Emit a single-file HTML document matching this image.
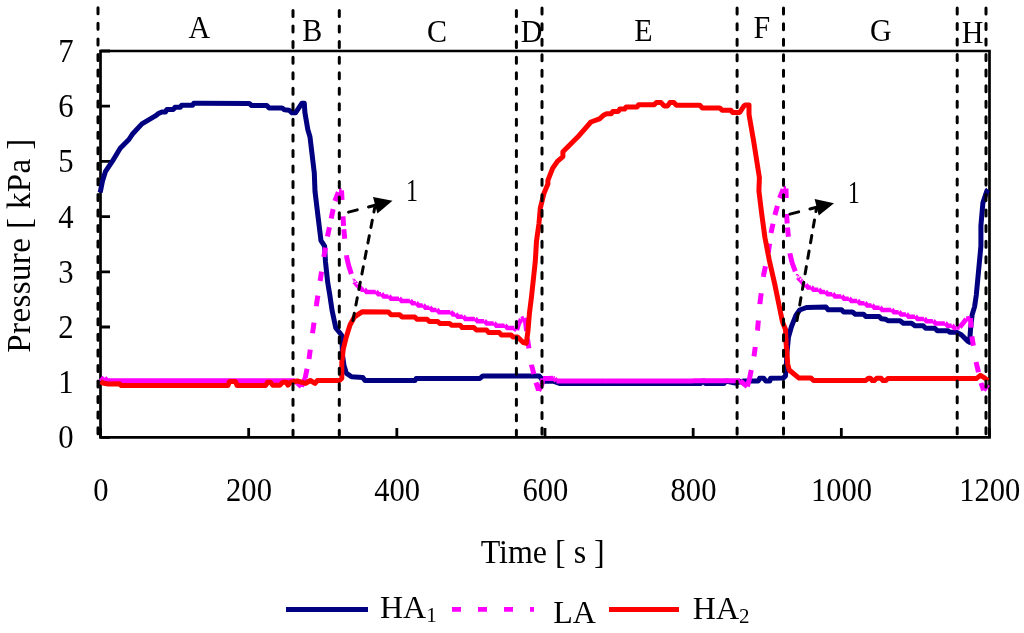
<!DOCTYPE html>
<html><head><meta charset="utf-8"><style>
html,body{margin:0;padding:0;background:#fff;overflow:hidden;}
svg{display:block;will-change:transform;}
</style></head><body>
<svg width="1024" height="633" viewBox="0 0 1024 633"><rect width="1024" height="633" fill="#fff"/><path d="M100.5,51.0 H989.5 V437.4 H100.5 Z" fill="none" stroke="#000" stroke-width="2.7"/><path d="M100.5,437.40 H110.0 M100.5,382.20 H110.0 M100.5,327.00 H110.0 M100.5,271.80 H110.0 M100.5,216.60 H110.0 M100.5,161.40 H110.0 M100.5,106.20 H110.0 M100.5,51.00 H110.0 M100.50,437.4 V427.9 M248.67,437.4 V427.9 M396.83,437.4 V427.9 M545.00,437.4 V427.9 M693.17,437.4 V427.9 M841.33,437.4 V427.9 M989.50,437.4 V427.9" stroke="#000" stroke-width="2.8" fill="none"/><path d="M100.2,192.5 L102.5,181.0 L105.4,171.7 L112.4,161.2 L120.2,148.2 L128.9,139.5 L132.3,134.3 L141.9,123.9 L155.0,116.2 L158.5,113.5 L161.9,111.9 L165.5,111.9 L167.0,109.4 L173.5,109.4 L175.0,107.3 L180.3,107.3 L181.7,105.3 L192.6,105.3 L193.8,103.3 L200.0,103.3 L249.2,103.4 L251.6,105.5 L266.8,105.5 L269.1,107.9 L282.0,107.9 L284.4,109.8 L289.0,110.2 L292.0,112.8 L295.5,112.8 L302.0,103.2 L304.3,103.2 L304.9,112.5 L307.8,129.5 L310.0,137.0 L314.3,173.0 L315.0,191.4 L318.2,217.9 L321.0,240.7 L324.6,246.2 L325.5,262.0 L327.7,282.4 L329.8,295.0 L332.0,310.0 L335.8,328.0 L339.5,332.5 L341.8,335.5 L342.5,355.0 L344.0,365.6 L346.3,373.1 L351.5,376.8 L362.8,377.6 L365.0,380.6 L415.0,380.6 L416.2,378.5 L479.9,378.5 L482.8,375.9 L539.1,375.9 L541.3,378.2 L542.6,381.2 L553.1,381.2 L559.5,383.4 L562.5,383.6 L700.6,383.6 L702.5,381.0 L704.5,381.0 L705.3,383.6 L724.0,383.6 L726.0,381.0 L735.0,383.0 L743.9,381.0 L758.3,381.0 L759.6,378.2 L763.7,378.2 L765.8,381.0 L769.9,381.0 L770.6,378.2 L783.2,378.1 L785.5,375.9 L786.2,366.9 L787.0,351.9 L788.5,337.0 L791.5,326.5 L796.0,315.2 L799.7,310.0 L806.5,307.5 L826.0,307.1 L828.2,309.8 L841.5,309.8 L843.7,312.0 L852.5,312.0 L855.3,314.2 L863.6,314.2 L865.8,316.5 L879.1,316.5 L881.3,318.7 L885.7,319.2 L887.9,320.7 L900.0,320.7 L903.3,323.2 L911.6,323.2 L914.9,325.7 L923.2,325.7 L925.7,328.2 L934.8,328.2 L937.3,330.7 L948.1,330.7 L949.7,332.3 L956.4,332.3 L961.3,334.8 L968.0,341.4 L969.6,342.3 L970.5,329.8 L972.1,314.9 L974.6,306.6 L976.3,295.0 L980.9,246.1 L980.9,225.6 L982.9,202.9 L987.0,190.6 L988.0,189.5" fill="none" stroke="#000080" stroke-width="5.0" stroke-linejoin="round"/><path d="M100.5,377.8 L102.5,379.5 M102.5,379.5 L104.5,377.8 M104.5,377.8 L107.0,380.7 M107.0,380.7 L110.8,380.7 M110.8,380.7 L114.5,380.7 M114.5,380.7 L118.3,380.7 M118.3,380.7 L122.0,380.7 M122.0,380.7 L125.8,380.7 M125.8,380.7 L129.6,380.7 M129.6,380.7 L133.3,380.7 M133.3,380.7 L137.1,380.7 M137.1,380.7 L140.8,380.7 M140.8,380.7 L144.6,380.7 M144.6,380.7 L148.4,380.7 M148.4,380.7 L152.1,380.7 M152.1,380.7 L155.9,380.7 M155.9,380.7 L159.6,380.7 M159.6,380.7 L163.4,380.7 M163.4,380.7 L167.2,380.7 M167.2,380.7 L170.9,380.7 M170.9,380.7 L174.7,380.7 M174.7,380.7 L178.4,380.7 M178.4,380.7 L182.2,380.7 M182.2,380.7 L186.0,380.7 M186.0,380.7 L189.7,380.7 M189.7,380.7 L193.5,380.7 M193.5,380.7 L197.2,380.7 M197.2,380.7 L201.0,380.7 M201.0,380.7 L204.8,380.7 M204.8,380.7 L208.5,380.7 M208.5,380.7 L212.3,380.7 M212.3,380.7 L216.0,380.7 M216.0,380.7 L219.8,380.7 M219.8,380.7 L223.6,380.7 M223.6,380.7 L227.3,380.7 M227.3,380.7 L231.1,380.7 M231.1,380.7 L234.8,380.7 M234.8,380.7 L238.6,380.7 M238.6,380.7 L242.4,380.7 M242.4,380.7 L246.1,380.7 M246.1,380.7 L249.9,380.7 M249.9,380.7 L253.6,380.7 M253.6,380.7 L257.4,380.7 M257.4,380.7 L261.2,380.7 M261.2,380.7 L264.9,380.7 M264.9,380.7 L268.7,380.7 M268.7,380.7 L272.4,380.7 M272.4,380.7 L276.2,380.7 M276.2,380.7 L280.0,380.7 M280.0,380.7 L283.7,380.7 M283.7,380.7 L287.5,380.7 M287.5,380.7 L291.2,380.7 M291.2,380.7 L295.0,380.7 M295.0,380.7 L297.8,383.5 M297.8,383.5 L301.5,386.5 M301.5,386.5 L305.2,378.0 M305.2,378.0 L309.0,359.0 M309.0,359.0 L312.7,332.0 M312.7,332.0 L316.4,305.0 M316.4,305.0 L320.1,281.0 M320.1,281.0 L323.8,257.0 M323.8,257.0 L327.5,236.6 M327.5,236.6 L331.2,218.4 M331.2,218.4 L334.9,201.0 M334.9,201.0 L339.0,190.5 M339.0,190.5 L341.5,190.5 M341.5,190.5 L343.0,216.3 M343.0,216.3 L343.8,229.3 M343.8,229.3 L346.5,256.3 M346.5,256.3 L348.5,265.0 M348.5,265.0 L353.5,280.8" fill="none" stroke="#ff00ff" stroke-width="5.0" stroke-dasharray="9.5 16.5"/><path d="M514.3,328.3 L516.7,330.0 M516.7,330.0 L518.7,323.4 M518.7,323.4 L521.4,319.4 M521.4,319.4 L524.3,318.1 M524.3,318.1 L525.5,321.5 M525.5,321.5 L527.5,339.0 M527.5,339.0 L531.5,365.0 M531.5,365.0 L536.0,382.5 M536.0,382.5 L538.6,390.6 M538.6,390.6 L541.5,386.0 M541.5,386.0 L543.0,378.5 M543.0,378.5 L548.0,378.4 M548.0,378.4 L553.0,378.3 M553.0,378.3 L554.5,378.7 M554.5,378.7 L556.4,381.0 M556.4,381.0 L560.1,381.0 M560.1,381.0 L563.9,381.0 M563.9,381.0 L567.6,381.0 M567.6,381.0 L571.4,381.0 M571.4,381.0 L575.1,381.0 M575.1,381.0 L578.9,381.0 M578.9,381.0 L582.6,381.0 M582.6,381.0 L586.4,381.0 M586.4,381.0 L590.1,381.0 M590.1,381.0 L593.9,381.0 M593.9,381.0 L597.6,381.0 M597.6,381.0 L601.4,381.0 M601.4,381.0 L605.1,380.9 M605.1,380.9 L608.9,380.9 M608.9,380.9 L612.6,380.9 M612.6,380.9 L616.4,380.9 M616.4,380.9 L620.1,380.9 M620.1,380.9 L623.8,380.9 M623.8,380.9 L627.6,380.9 M627.6,380.9 L631.3,380.9 M631.3,380.9 L635.1,380.9 M635.1,380.9 L638.8,380.9 M638.8,380.9 L642.6,380.9 M642.6,380.9 L646.3,380.9 M646.3,380.9 L650.1,380.9 M650.1,380.9 L653.8,380.9 M653.8,380.9 L657.6,380.9 M657.6,380.9 L661.3,380.9 M661.3,380.9 L665.1,380.9 M665.1,380.9 L668.8,380.9 M668.8,380.9 L672.6,380.9 M672.6,380.9 L676.3,380.9 M676.3,380.9 L680.0,380.9 M680.0,380.9 L683.8,380.9 M683.8,380.9 L687.5,380.9 M687.5,380.9 L691.3,380.9 M691.3,380.9 L695.0,380.8 M695.0,380.8 L698.8,380.8 M698.8,380.8 L702.5,380.8 M702.5,380.8 L706.3,380.8 M706.3,380.8 L710.0,380.8 M710.0,380.8 L713.8,380.8 M713.8,380.8 L717.5,380.8 M717.5,380.8 L721.3,380.8 M721.3,380.8 L725.0,380.8 M725.0,380.8 L728.8,380.8 M728.8,380.8 L732.5,380.8 M732.5,380.8 L736.3,380.8 M736.3,380.8 L740.0,380.8 M740.0,380.8 L743.5,383.5 M743.5,383.5 L747.3,386.5 M747.3,386.5 L749.4,379.3 M749.4,379.3 L754.0,356.4 M754.0,356.4 L757.5,330.0 M757.5,330.0 L760.0,302.7 M760.0,302.7 L763.5,275.6 M763.5,275.6 L768.3,253.0 M768.3,253.0 L771.0,233.0 M771.0,233.0 L774.9,215.0 M774.9,215.0 L779.6,198.0 M779.6,198.0 L783.5,188.5 M783.5,188.5 L786.0,188.5 M786.0,188.5 L786.5,214.0 M786.5,214.0 L787.5,227.4 M787.5,227.4 L790.0,254.0 M790.0,254.0 L792.0,262.5 M792.0,262.5 L797.5,277.3" fill="none" stroke="#ff00ff" stroke-width="5.0" stroke-dasharray="9.5 16.5"/><path d="M956.5,327.3 L959.7,327.3 M959.7,327.3 L963.0,323.2 M963.0,323.2 L966.3,319.0 M966.3,319.0 L970.5,318.2 M970.5,318.2 L971.8,336.4 M971.8,336.4 L976.3,363.0 M976.3,363.0 L981.0,383.0 M981.0,383.0 L983.7,390.4 M983.7,390.4 L987.9,384.6" fill="none" stroke="#ff00ff" stroke-width="5.0" stroke-dasharray="9.5 16.5"/><path d="M353.50,278.40 L352.35,278.40 L352.95,280.40 L354.55,278.40 L356.35,280.65 L354.20,280.65 L354.80,282.65 L356.40,280.65 L358.20,282.90 L356.40,282.90 L357.00,284.90 L358.60,282.90 L360.40,285.15 L359.05,285.15 L359.65,287.15 L361.25,285.15 L363.05,287.40 L363.70,287.40 L364.30,289.40 L365.90,287.40 L367.70,289.65 L375.45,289.65 L376.05,291.65 L377.65,289.65 L379.45,291.90 L380.85,291.90 L381.45,293.90 L383.05,291.90 L384.85,294.15 L388.25,294.15 L388.85,296.15 L390.45,294.15 L392.25,296.40 L398.70,296.40 L399.30,298.40 L400.90,296.40 L402.70,298.65 L409.60,298.65 L410.20,300.65 L411.80,298.65 L413.60,300.90 L415.55,300.90 L416.15,302.90 L417.75,300.90 L419.55,303.15 L422.55,303.15 L423.15,305.15 L424.75,303.15 L426.55,305.40 L429.10,305.40 L429.70,307.40 L431.30,305.40 L433.10,307.65 L436.25,307.65 L436.85,309.65 L438.45,307.65 L440.25,309.90 L450.10,309.90 L450.70,311.90 L452.30,309.90 L454.10,312.15 L455.00,312.15 L455.60,314.15 L457.20,312.15 L459.00,314.40 L462.50,314.40 L463.10,316.40 L464.70,314.40 L466.50,316.65 L474.60,316.65 L475.20,318.65 L476.80,316.65 L478.60,318.90 L483.80,318.90 L484.40,320.90 L486.00,318.90 L487.80,321.15 L493.45,321.15 L494.05,323.15 L495.65,321.15 L497.45,323.40 L504.35,323.40 L504.95,325.40 L506.55,323.40 L508.35,325.65 L514.30,325.65 L514.30,330.25 L506.25,330.25 L504.35,328.00 L495.35,328.00 L493.45,325.75 L485.70,325.75 L483.80,323.50 L476.50,323.50 L474.60,321.25 L464.40,321.25 L462.50,319.00 L456.90,319.00 L455.00,316.75 L452.00,316.75 L450.10,314.50 L438.15,314.50 L436.25,312.25 L431.00,312.25 L429.10,310.00 L424.45,310.00 L422.55,307.75 L417.45,307.75 L415.55,305.50 L411.50,305.50 L409.60,303.25 L400.60,303.25 L398.70,301.00 L390.15,301.00 L388.25,298.75 L382.75,298.75 L380.85,296.50 L377.35,296.50 L375.45,294.25 L365.60,294.25 L363.70,292.00 L360.95,292.00 L359.05,289.75 L358.30,289.75 L356.40,287.50 L356.10,287.50 L354.20,285.25 L354.25,285.25 L352.35,283.00 L353.50,283.00 Z M797.50,273.90 L795.70,273.90 L796.30,275.90 L797.90,273.90 L799.70,276.15 L798.00,276.15 L798.60,278.15 L800.20,276.15 L802.00,278.40 L799.85,278.40 L800.45,280.40 L802.05,278.40 L803.85,280.65 L801.65,280.65 L802.25,282.65 L803.85,280.65 L805.65,282.90 L805.20,282.90 L805.80,284.90 L807.40,282.90 L809.20,285.15 L810.60,285.15 L811.20,287.15 L812.80,285.15 L814.60,287.40 L818.05,287.40 L818.65,289.40 L820.25,287.40 L822.05,289.65 L824.85,289.65 L825.45,291.65 L827.05,289.65 L828.85,291.90 L832.10,291.90 L832.70,293.90 L834.30,291.90 L836.10,294.15 L841.15,294.15 L841.75,296.15 L843.35,294.15 L845.15,296.40 L848.50,296.40 L849.10,298.40 L850.70,296.40 L852.50,298.65 L856.95,298.65 L857.55,300.65 L859.15,298.65 L860.95,300.90 L864.25,300.90 L864.85,302.90 L866.45,300.90 L868.25,303.15 L871.40,303.15 L872.00,305.15 L873.60,303.15 L875.40,305.40 L879.30,305.40 L879.90,307.40 L881.50,305.40 L883.30,307.65 L891.10,307.65 L891.70,309.65 L893.30,307.65 L895.10,309.90 L898.30,309.90 L898.90,311.90 L900.50,309.90 L902.30,312.15 L905.75,312.15 L906.35,314.15 L907.95,312.15 L909.75,314.40 L914.70,314.40 L915.30,316.40 L916.90,314.40 L918.70,316.65 L923.65,316.65 L924.25,318.65 L925.85,316.65 L927.65,318.90 L932.65,318.90 L933.25,320.90 L934.85,318.90 L936.65,321.15 L944.65,321.15 L945.25,323.15 L946.85,321.15 L948.65,323.40 L951.40,323.40 L952.00,325.40 L953.60,323.40 L955.40,325.65 L956.50,325.65 L956.50,330.25 L953.30,330.25 L951.40,328.00 L946.55,328.00 L944.65,325.75 L934.55,325.75 L932.65,323.50 L925.55,323.50 L923.65,321.25 L916.60,321.25 L914.70,319.00 L907.65,319.00 L905.75,316.75 L900.20,316.75 L898.30,314.50 L893.00,314.50 L891.10,312.25 L881.20,312.25 L879.30,310.00 L873.30,310.00 L871.40,307.75 L866.15,307.75 L864.25,305.50 L858.85,305.50 L856.95,303.25 L850.40,303.25 L848.50,301.00 L843.05,301.00 L841.15,298.75 L834.00,298.75 L832.10,296.50 L826.75,296.50 L824.85,294.25 L819.95,294.25 L818.05,292.00 L812.50,292.00 L810.60,289.75 L807.10,289.75 L805.20,287.50 L803.55,287.50 L801.65,285.25 L801.75,285.25 L799.85,283.00 L799.90,283.00 L798.00,280.75 L797.60,280.75 L795.70,278.50 L797.50,278.50 Z" fill="#ff00ff"/><path d="M100.5,381.5 L103.0,383.0 L108.0,384.0 L119.6,383.8 L121.0,385.4 L228.0,385.4 L229.5,381.5 L235.5,381.5 L237.0,385.4 L265.8,385.4 L267.5,382.3 L270.5,382.3 L272.8,385.2 L279.8,385.2 L282.8,382.3 L286.3,382.3 L288.0,385.2 L290.4,382.3 L297.4,381.0 L305.6,383.4 L310.3,380.5 L315.0,383.4 L317.3,380.5 L339.5,380.6 L341.8,378.3 L341.8,362.6 L343.3,349.0 L346.3,337.0 L350.0,325.0 L354.5,316.8 L362.0,311.8 L388.4,312.1 L391.0,314.8 L399.8,314.8 L402.0,317.0 L414.8,317.0 L417.0,319.2 L427.1,319.2 L429.3,321.4 L437.6,321.4 L439.8,323.4 L449.5,323.4 L451.5,325.2 L460.3,325.2 L462.2,327.6 L473.9,327.6 L476.4,330.0 L486.6,330.0 L488.6,332.5 L499.3,332.5 L501.3,334.9 L511.1,334.9 L513.0,337.0 L517.6,337.0 L523.2,342.6 L526.3,343.2 L527.9,331.6 L529.5,312.6 L531.5,296.7 L535.3,261.3 L536.5,241.0 L539.0,223.3 L540.3,208.1 L544.1,192.9 L547.9,184.0 L547.9,180.3 L552.6,168.4 L557.4,161.3 L562.9,156.6 L562.9,151.8 L577.9,136.8 L590.9,122.0 L599.5,118.8 L603.4,115.3 L606.6,113.8 L611.2,113.8 L612.8,111.4 L618.3,111.4 L619.8,109.1 L624.5,109.1 L626.1,107.1 L637.0,107.1 L638.6,104.8 L654.2,104.8 L656.4,102.5 L661.1,102.6 L664.1,105.9 L667.6,105.9 L669.9,102.6 L674.0,102.6 L676.4,105.2 L699.8,105.2 L702.2,107.9 L719.7,107.9 L722.1,110.2 L730.9,110.2 L732.6,112.5 L739.7,112.5 L743.8,106.1 L745.5,104.9 L749.0,104.9 L749.0,114.3 L753.8,142.2 L759.4,177.6 L758.9,190.9 L761.6,213.0 L764.9,237.4 L769.3,260.2 L774.8,284.4 L782.5,322.0 L785.5,329.5 L786.2,344.4 L787.7,364.0 L789.2,370.0 L793.7,373.7 L799.0,378.1 L811.0,378.1 L813.5,380.6 L865.4,380.6 L868.4,378.2 L870.3,378.2 L872.3,380.6 L874.2,380.6 L876.7,378.2 L881.1,378.2 L883.0,380.6 L885.9,380.6 L887.9,378.4 L976.3,378.6 L980.4,375.4 L984.6,377.9 L987.9,380.4" fill="none" stroke="#ff0000" stroke-width="5.0" stroke-linejoin="round"/><line x1="98" y1="7.8" x2="98" y2="435" stroke="#000" stroke-width="3" stroke-dasharray="6 9.55" stroke-linecap="round"/><line x1="293" y1="10.5" x2="293" y2="435" stroke="#000" stroke-width="3" stroke-dasharray="6 9.55" stroke-linecap="round"/><line x1="339.3" y1="10.5" x2="339.3" y2="435" stroke="#000" stroke-width="3" stroke-dasharray="6 9.55" stroke-linecap="round"/><line x1="516.4" y1="10.5" x2="516.4" y2="435" stroke="#000" stroke-width="3" stroke-dasharray="6 9.55" stroke-linecap="round"/><line x1="542" y1="8.1" x2="542" y2="435" stroke="#000" stroke-width="3" stroke-dasharray="6 9.55" stroke-linecap="round"/><line x1="737.1" y1="8.1" x2="737.1" y2="435" stroke="#000" stroke-width="3" stroke-dasharray="6 9.55" stroke-linecap="round"/><line x1="783.5" y1="8.1" x2="783.5" y2="435" stroke="#000" stroke-width="3" stroke-dasharray="6 9.55" stroke-linecap="round"/><line x1="957.2" y1="7.9" x2="957.2" y2="435" stroke="#000" stroke-width="3" stroke-dasharray="6 9.55" stroke-linecap="round"/><line x1="986" y1="7.9" x2="986" y2="435" stroke="#000" stroke-width="3" stroke-dasharray="6 9.55" stroke-linecap="round"/><path d="M348.55,212.12 L375.2,205.2" stroke="#000" stroke-width="3" stroke-dasharray="9 11.6" stroke-linecap="round" fill="none"/><path d="M352.90,320.50 L375.2,205.2" stroke="#000" stroke-width="3" stroke-dasharray="7.3 8.5" stroke-linecap="round" fill="none"/><path d="M392.5,200.8 L373,196.9 L377.4,213.5 Z" fill="#000"/><path d="M789.95,214.12 L816.7,207.2" stroke="#000" stroke-width="3" stroke-dasharray="9 11.6" stroke-linecap="round" fill="none"/><path d="M797.00,320.50 L816.7,207.2" stroke="#000" stroke-width="3" stroke-dasharray="7.3 8.5" stroke-linecap="round" fill="none"/><path d="M834,203.2 L814.6,198.9 L818.8,215.5 Z" fill="#000"/><text transform="translate(199.3,38.0) scale(1,1.05)" font-family="Liberation Serif, serif" font-size="30" text-anchor="middle">A</text><text transform="translate(312.2,40.5) scale(1,1.05)" font-family="Liberation Serif, serif" font-size="30" text-anchor="middle">B</text><text transform="translate(436.9,42.4) scale(1,1.05)" font-family="Liberation Serif, serif" font-size="30" text-anchor="middle">C</text><text transform="translate(531.5,42.2) scale(1,1.05)" font-family="Liberation Serif, serif" font-size="30" text-anchor="middle">D</text><text transform="translate(643.4,40.8) scale(1,1.05)" font-family="Liberation Serif, serif" font-size="30" text-anchor="middle">E</text><text transform="translate(761.8,38.2) scale(1,1.05)" font-family="Liberation Serif, serif" font-size="30" text-anchor="middle">F</text><text transform="translate(880.8,41.2) scale(1,1.05)" font-family="Liberation Serif, serif" font-size="30" text-anchor="middle">G</text><text transform="translate(972.6,42.8) scale(1,1.05)" font-family="Liberation Serif, serif" font-size="30" text-anchor="middle">H</text><text transform="translate(411.9,201.0) scale(0.8,1.07)" font-family="Liberation Serif, serif" font-size="30" text-anchor="middle">1</text><text transform="translate(853.7,203.0) scale(0.8,1.07)" font-family="Liberation Serif, serif" font-size="30" text-anchor="middle">1</text><text transform="translate(73.5,448.3) scale(0.96,1.05)" font-family="Liberation Serif, serif" font-size="32" text-anchor="end">0</text><text transform="translate(73.5,393.1) scale(0.96,1.05)" font-family="Liberation Serif, serif" font-size="32" text-anchor="end">1</text><text transform="translate(73.5,337.9) scale(0.96,1.05)" font-family="Liberation Serif, serif" font-size="32" text-anchor="end">2</text><text transform="translate(73.5,282.7) scale(0.96,1.05)" font-family="Liberation Serif, serif" font-size="32" text-anchor="end">3</text><text transform="translate(73.5,227.5) scale(0.96,1.05)" font-family="Liberation Serif, serif" font-size="32" text-anchor="end">4</text><text transform="translate(73.5,172.3) scale(0.96,1.05)" font-family="Liberation Serif, serif" font-size="32" text-anchor="end">5</text><text transform="translate(73.5,117.1) scale(0.96,1.05)" font-family="Liberation Serif, serif" font-size="32" text-anchor="end">6</text><text transform="translate(73.5,61.9) scale(0.96,1.05)" font-family="Liberation Serif, serif" font-size="32" text-anchor="end">7</text><text transform="translate(100.8,500.6) scale(0.955,1.07)" font-family="Liberation Serif, serif" font-size="32" text-anchor="middle">0</text><text transform="translate(249.0,500.6) scale(0.955,1.07)" font-family="Liberation Serif, serif" font-size="32" text-anchor="middle">200</text><text transform="translate(397.1,500.6) scale(0.955,1.07)" font-family="Liberation Serif, serif" font-size="32" text-anchor="middle">400</text><text transform="translate(545.3,500.6) scale(0.955,1.07)" font-family="Liberation Serif, serif" font-size="32" text-anchor="middle">600</text><text transform="translate(693.5,500.6) scale(0.955,1.07)" font-family="Liberation Serif, serif" font-size="32" text-anchor="middle">800</text><text transform="translate(841.6,500.6) scale(0.955,1.07)" font-family="Liberation Serif, serif" font-size="32" text-anchor="middle">1000</text><text transform="translate(989.8,500.6) scale(0.955,1.07)" font-family="Liberation Serif, serif" font-size="32" text-anchor="middle">1200</text><text transform="translate(542.7,563.4) scale(1,1.07)" font-family="Liberation Serif, serif" font-size="32" text-anchor="middle">Time [ s ]</text><text transform="translate(30,245.7) rotate(-90)" x="0" y="0" font-family="Liberation Serif, serif" font-size="33" textLength="214" lengthAdjust="spacing" text-anchor="middle">Pressure [ kPa ]</text><line x1="286" y1="609.5" x2="368" y2="609.5" stroke="#000080" stroke-width="4.8"/><text x="380" y="618.4" font-family="Liberation Serif, serif" font-size="32">HA<tspan font-size="21" dy="4">1</tspan></text><line x1="452" y1="609.3" x2="534" y2="609.3" stroke="#ff00ff" stroke-width="4.8" stroke-dasharray="9 17"/><text x="553.3" y="623.3" font-family="Liberation Serif, serif" font-size="32">LA</text><line x1="609" y1="609.5" x2="679" y2="609.5" stroke="#ff0000" stroke-width="4.8"/><text x="692.8" y="619.2" font-family="Liberation Serif, serif" font-size="32">HA<tspan font-size="21" dy="4">2</tspan></text></svg>
</body></html>
